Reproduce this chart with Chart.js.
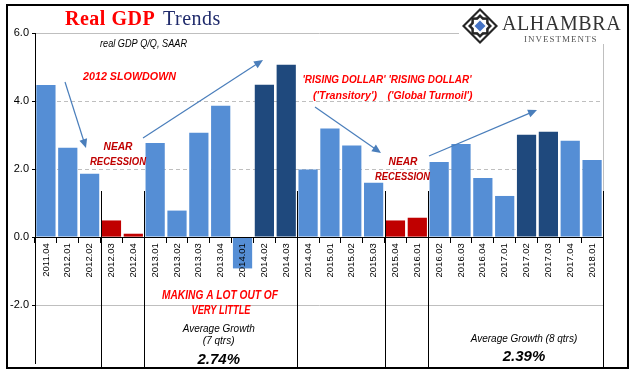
<!DOCTYPE html>
<html>
<head>
<meta charset="utf-8">
<script src="https://cdn.jsdelivr.net/npm/chart.js@4.4.0/dist/chart.umd.min.js"></script>
<style>
  html, body { margin: 0; padding: 0; background: #fff; }
  #wrap { width: 641px; height: 375px; }
</style>
</head>
<body>
<div id="wrap"><canvas id="grafico" width="641" height="375"></canvas></div>
<script>
// data
var quarters = ['2011.04', '2012.01', '2012.02', '2012.03', '2012.04', '2013.01', '2013.02', '2013.03', '2013.04',
    '2014.01', '2014.02', '2014.03', '2014.04', '2015.01', '2015.02', '2015.03', '2015.04', '2016.01',
    '2016.02', '2016.03', '2016.04', '2017.01', '2017.02', '2017.03', '2017.04', '2018.01'];
var gdpGrowth = [4.47, 2.63, 1.86, 0.49, 0.10, 2.77, 0.78, 3.07, 3.86,
    -0.92, 4.48, 5.07, 1.99, 3.19, 2.69, 1.60, 0.49, 0.57,
    2.21, 2.74, 1.74, 1.21, 3.01, 3.10, 2.83, 2.27];
var redQuarters = ['2012.03', '2012.04', '2015.04', '2016.01'];
var darkQuarters = ['2014.02', '2014.03', '2017.02', '2017.03'];
var periodStarts = ['2012.03', '2013.01', '2014.04', '2015.04', '2016.02'];
var yTicks = [-2, 0, 2, 4, 6];

var barColors = quarters.map(function (q) {
    if (redQuarters.indexOf(q) >= 0) return '#C00000';
    if (darkQuarters.indexOf(q) >= 0) return '#1F497D';
    return '#558ED5';
});

// little helpers for the annotations
function label(ctx, t, x, y, font, color, w) {
    ctx.font = font;
    ctx.fillStyle = color;
    ctx.textAlign = 'center';
    ctx.textBaseline = 'middle';
    ctx.fillText(t, x, y, w);
}

function arrow(ctx, x1, y1, x2, y2) {
    var a = Math.atan2(y2 - y1, x2 - x1);
    var c = Math.cos(a), s = Math.sin(a);
    ctx.strokeStyle = '#4A7EBB';
    ctx.fillStyle = '#4A7EBB';
    ctx.lineWidth = 1.2;
    ctx.beginPath();
    ctx.moveTo(x1, y1);
    ctx.lineTo(x2 - 6 * c, y2 - 6 * s);
    ctx.stroke();
    ctx.beginPath();
    ctx.moveTo(x2, y2);
    ctx.lineTo(x2 - 9 * c + 4 * s, y2 - 9 * s - 4 * c);
    ctx.lineTo(x2 - 9 * c - 4 * s, y2 - 9 * s + 4 * c);
    ctx.closePath();
    ctx.fill();
}

function diamond(ctx, cx, cy, r, color) {
    ctx.fillStyle = color;
    ctx.beginPath();
    ctx.moveTo(cx, cy - r);
    ctx.lineTo(cx + r, cy);
    ctx.lineTo(cx, cy + r);
    ctx.lineTo(cx - r, cy);
    ctx.closePath();
    ctx.fill();
}

function star(ctx, cx, cy, r, color) {
    ctx.fillStyle = color;
    ctx.fillRect(cx - r * 0.72, cy - r * 0.72, r * 1.44, r * 1.44);
    diamond(ctx, cx, cy, r, color);
}

var fondo = {
    id: 'fondo',
    beforeDraw: function (chart) {
        var ctx = chart.ctx;
        ctx.save();
        ctx.fillStyle = '#fff';
        ctx.fillRect(0, 0, chart.width, chart.height);
        ctx.restore();
    }
};

var extras = {
    id: 'extras',
    afterDraw: function (chart) {
        var ctx = chart.ctx;
        var xs = chart.scales.x;
        var area = chart.chartArea;
        ctx.save();

        // period separators
        ctx.strokeStyle = '#000';
        ctx.lineWidth = 1;
        periodStarts.forEach(function (q) {
            var i = quarters.indexOf(q);
            var x = Math.round((xs.getPixelForValue(i - 1) + xs.getPixelForValue(i)) / 2) + 0.5;
            ctx.beginPath();
            ctx.moveTo(x, 191);
            ctx.lineTo(x, 368);
            ctx.stroke();
        });
        var xr = Math.round(area.right) + 0.5;
        ctx.strokeStyle = '#bfbfbf';
        ctx.beginPath();
        ctx.moveTo(xr, area.top);
        ctx.lineTo(xr, 191);
        ctx.stroke();
        ctx.strokeStyle = '#000';
        ctx.beginPath();
        ctx.moveTo(xr, 191);
        ctx.lineTo(xr, 368);
        ctx.stroke();

        // outer frame
        ctx.lineWidth = 2;
        ctx.strokeRect(7, 5, 621, 363);

        // logo
        ctx.fillStyle = '#fff';
        ctx.fillRect(459, 6, 168, 38);
        diamond(ctx, 480, 26, 18, '#262626');
        diamond(ctx, 480, 26, 15, '#fff');
        star(ctx, 480, 26, 12, '#262626');
        star(ctx, 480, 26, 8.5, '#fff');
        diamond(ctx, 480, 26, 5.5, '#4472C4');
        ctx.fillStyle = '#333';
        ctx.textAlign = 'left';
        ctx.textBaseline = 'alphabetic';
        ctx.font = '20px "Liberation Serif"';
        ctx.letterSpacing = '0.6px';
        ctx.fillText('ALHAMBRA', 502, 30);
        ctx.font = '9px "Liberation Serif"';
        ctx.letterSpacing = '1px';
        ctx.fillStyle = '#555';
        ctx.fillText('INVESTMENTS', 524, 42);

        // title
        ctx.font = 'bold 20px "Liberation Serif"';
        ctx.letterSpacing = '0.5px';
        ctx.fillStyle = '#FF0000';
        ctx.fillText('Real GDP', 65, 25);
        ctx.font = '20px "Liberation Serif"';
        ctx.fillStyle = '#1F2A6B';
        ctx.fillText('Trends', 163, 25);
        ctx.letterSpacing = '0px';

        // arrows
        arrow(ctx, 65, 82, 86, 148);
        arrow(ctx, 143, 138, 263, 60);
        arrow(ctx, 315, 107, 381, 153);
        arrow(ctx, 429, 156, 537, 110);

        // notes
        var red = '#FF0000', dark = '#C00000';
        var bi11 = 'bold italic 11px "Liberation Sans"';
        label(ctx, 'real GDP Q/Q, SAAR', 143.5, 44, 'italic 10px "Liberation Sans"', '#000', 87);
        label(ctx, '2012 SLOWDOWN', 129.5, 77, bi11, red, 93);
        label(ctx, 'NEAR', 118, 147, bi11, dark, 29);
        label(ctx, 'RECESSION', 118, 162, bi11, dark, 56);
        label(ctx, 'NEAR', 403, 162, bi11, dark, 29);
        label(ctx, 'RECESSION', 402.5, 177, bi11, dark, 55);
        label(ctx, "'RISING DOLLAR'", 344, 80, bi11, red, 83);
        label(ctx, "('Transitory')", 345, 95.5, bi11, red, 64);
        label(ctx, "'RISING DOLLAR'", 430, 80, bi11, red, 83);
        label(ctx, "('Global Turmoil')", 430, 95.5, bi11, red, 85);
        label(ctx, 'MAKING A LOT OUT OF', 220, 296, 'bold italic 12px "Liberation Sans"', red, 116);
        label(ctx, 'VERY LITTLE', 221, 311, 'bold italic 12px "Liberation Sans"', red, 59);
        label(ctx, 'Average Growth', 218.7, 329, 'italic 10px "Liberation Sans"', '#000', 74);
        label(ctx, '(7 qtrs)', 218.7, 341, 'italic 10px "Liberation Sans"', '#000', 32);
        label(ctx, '2.74%', 218.7, 359.5, 'bold italic 15px "Liberation Sans"', '#000', 44);
        label(ctx, 'Average Growth (8 qtrs)', 524, 339, 'italic 10px "Liberation Sans"', '#000', 107);
        label(ctx, '2.39%', 524, 356.5, 'bold italic 15px "Liberation Sans"', '#000', 44);

        ctx.restore();
    }
};

new Chart(document.getElementById('grafico').getContext('2d'), {
    type: 'bar',
    data: {
        labels: quarters,
        datasets: [{
            data: gdpGrowth,
            backgroundColor: barColors,
            borderWidth: 0,
            barPercentage: 0.88,
            categoryPercentage: 1
        }]
    },
    options: {
        responsive: false,
        animation: false,
        layout: { padding: { left: 0, right: 38, top: 33, bottom: 12 } },
        plugins: { legend: { display: false }, tooltip: { enabled: false } },
        scales: {
            x: {
                type: 'category',
                position: { y: 0 },
                offset: true,
                grid: { offset: true, drawOnChartArea: false, drawTicks: true, tickLength: 5, color: '#000', z: 1 },
                border: { color: '#000', width: 1, z: 1 },
                ticks: {
                    z: 1,
                    autoSkip: false, minRotation: 90, maxRotation: 90, padding: 1,
                    color: '#000', font: { family: 'Liberation Sans', size: 9.5 }
                }
            },
            y: {
                min: -3.7,
                max: 6,
                afterFit: function (s) { s.width = 35; },
                afterBuildTicks: function (s) {
                    s.ticks = yTicks.map(function (v) { return { value: v }; });
                },
                grid: {
                    color: function (c) { return c.tick && c.tick.value === 0 ? 'rgba(0,0,0,0)' : '#bfbfbf'; },
                    tickColor: '#000',
                    tickLength: 3
                },
                border: {
                    color: '#000',
                    width: 1,
                    dash: function (c) { return c.tick && (c.tick.value === 2 || c.tick.value === 4) ? [4, 3] : []; }
                },
                ticks: {
                    padding: 3,
                    color: '#000',
                    font: { family: 'Liberation Sans', size: 11 },
                    callback: function (v) { return Number(v).toFixed(1); }
                }
            }
        }
    },
    plugins: [fondo, extras]
});
</script>
</body>
</html>
